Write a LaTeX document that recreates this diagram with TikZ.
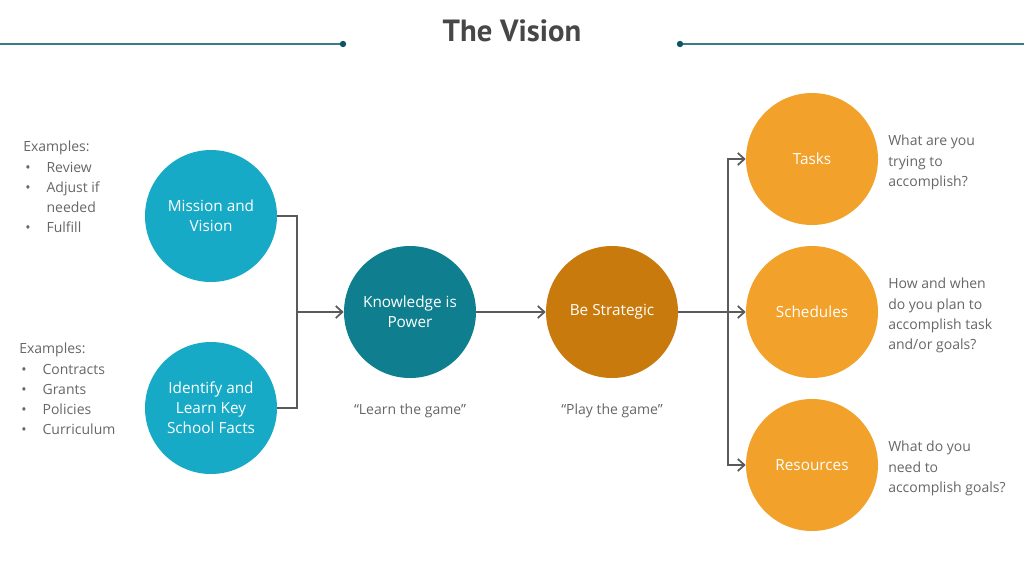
\documentclass[tikz,border=0pt]{standalone}
\usepackage{fontspec}
\setmainfont{Open Sans}
\newfontfamily\titlefont{PT Sans}
\usetikzlibrary{arrows.meta}
\definecolor{txtgray}{HTML}{666666}
\definecolor{linegray}{HTML}{5A5A5A}
\definecolor{cyanc}{HTML}{17AAC6}
\definecolor{tealc}{HTML}{0F7F8F}
\definecolor{ochre}{HTML}{C97A0D}
\definecolor{orangec}{HTML}{F2A12A}
\definecolor{rulec}{HTML}{3B7A88}
\definecolor{dotc}{HTML}{0D5566}
\tikzset{
  bubble/.style={circle, minimum size=99pt, inner sep=0pt, text=white, align=center,
    font=\fontsize{11.5}{15}\selectfont},
  note/.style={text=txtgray, align=left, inner sep=0pt, anchor=north west,
    font=\fontsize{10.5}{15.2}\selectfont},
  conn/.style={draw=linegray, line width=1.5pt},
  arr/.style={conn, -{Straight Barb[length=5pt,width=9pt,line width=1.3pt]}},
}
\newcommand{\bul}{\makebox[17.5pt][l]{\hspace{1.5pt}\textbullet}}
\begin{document}
\begin{tikzpicture}[x=0.75pt,y=-0.75pt]
\useasboundingbox (0,0) rectangle (1024,576);
% header
\node[font=\titlefont\bfseries\fontsize{23}{26}\selectfont, text=black!72] (title) at (512,31) {The Vision};
\coordinate (l0) at (0,44); \coordinate (l1) at (343,44);
\coordinate (r0) at (680,44); \coordinate (r1) at (1024,44);
\draw[rulec, line width=1.1pt] (l0) -- (l1);
\draw[rulec, line width=1.1pt] (r0) -- (r1);
\fill[dotc] (l1) circle (3.2);
\fill[dotc] (r0) circle (3.2);
% circles
\node[bubble, fill=cyanc] (mv) at (211,216) {Mission and\\Vision};
\node[bubble, fill=cyanc] (id) at (211,408) {Identify and\\Learn Key\\School Facts};
\node[bubble, fill=tealc] (kp) at (410,312) {Knowledge is\\Power};
\node[bubble, fill=ochre] (bs) at (612,312) {Be Strategic};
\node[bubble, fill=orangec] (ta) at (812,159) {Tasks};
\node[bubble, fill=orangec] (sc) at (812,312) {Schedules};
\node[bubble, fill=orangec] (re) at (812,465) {Resources};
% connectors
\coordinate (j1) at (297,312);
\draw[conn] (mv.east) -| (j1);
\draw[conn] (id.east) -| (j1);
\draw[arr] (j1) -- (kp.west);
\draw[arr] (kp.east) -- (bs.west);
\coordinate (j2) at (728,312);
\draw[conn] (bs.east) -- (j2);
\draw[arr] (j2) |- (ta.west);
\draw[arr] (j2) -- (sc.west);
\draw[arr] (j2) |- (re.west);
% notes
\node[note] (n1) at (23,141) {Examples:\\\bul Review\\\bul Adjust if\\\hspace{17.5pt}needed\\\bul Fulfill};
\node[note] (n2) at (19,343) {Examples:\\\bul Contracts\\\bul Grants\\\bul Policies\\\bul Curriculum};
\node[text=txtgray, font=\fontsize{10.5}{15}\selectfont] (q1) at (410,411) {“Learn the game”};
\node[text=txtgray, font=\fontsize{10.5}{15}\selectfont] (q2) at (612,411) {“Play the game”};
\node[note] (t1) at (888,135) {What are you\\trying to\\accomplish?};
\node[note] (t2) at (888,278) {How and when\\do you plan to\\accomplish task\\and/or goals?};
\node[note] (t3) at (888,441) {What do you\\need to\\accomplish goals?};
\end{tikzpicture}
\end{document}
